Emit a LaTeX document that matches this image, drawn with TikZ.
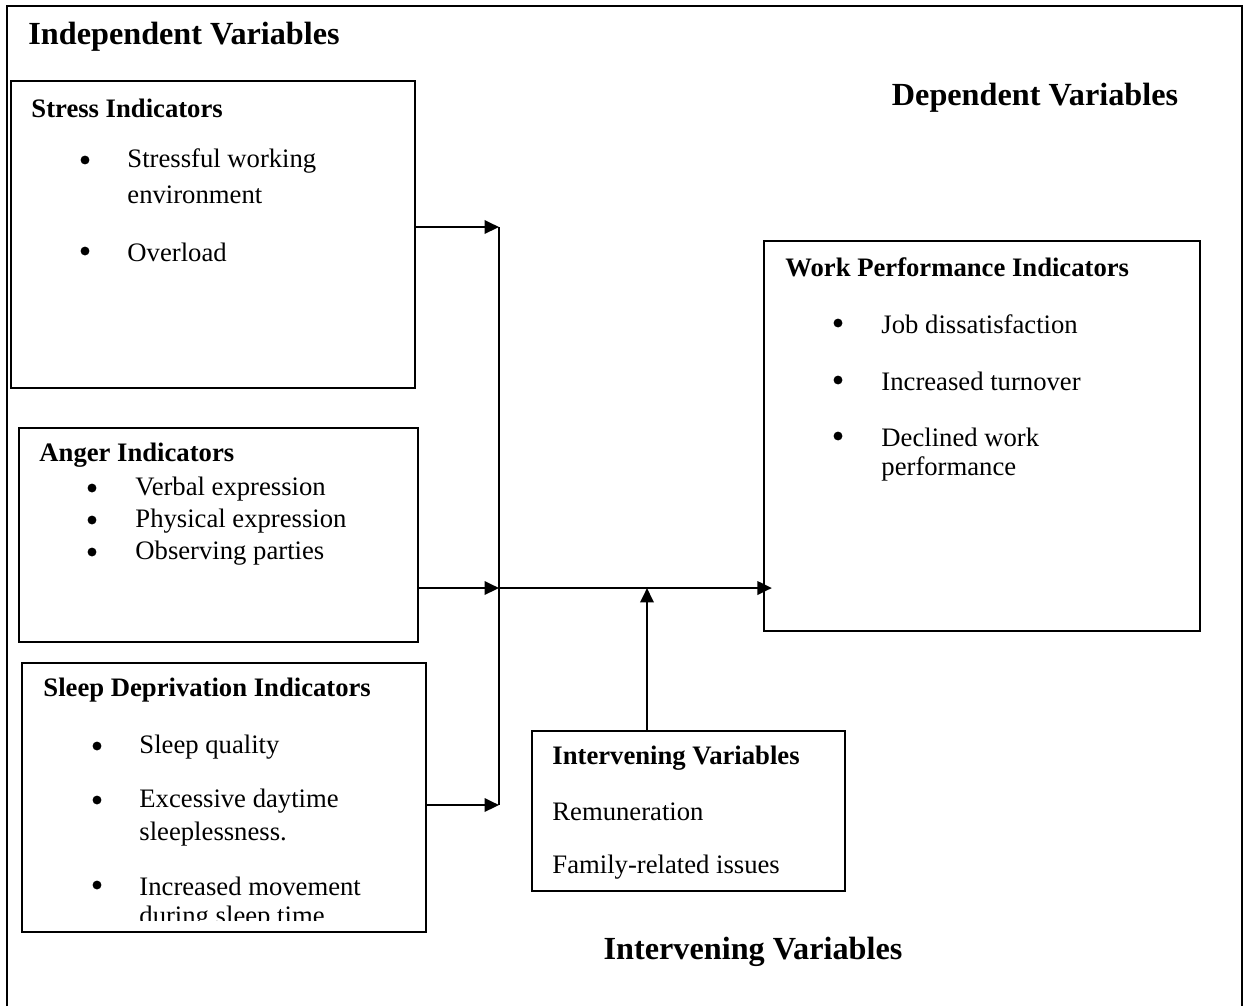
\documentclass[tikz,border=0pt]{standalone}
\usepackage{fontspec}
\setmainfont{Liberation Serif}
\usetikzlibrary{arrows.meta}

\tikzset{
  box/.style={draw, rectangle, line width=0.9pt, inner sep=0pt},
  head/.style={font=\fontsize{14.5}{17}\selectfont\bfseries, inner sep=0pt},
  title/.style={font=\fontsize{12}{14}\selectfont\bfseries, anchor=west, inner sep=0pt},
  txt/.style={font=\fontsize{12}{14}\selectfont, anchor=west, inner sep=0pt},
  dot/.style={circle, fill, inner sep=0pt, minimum size=4pt},
  link/.style={line width=1.1pt, -{Triangle[length=6.5pt,width=6pt]}}
}

\begin{document}
\begin{tikzpicture}[x=0.45pt,y=-0.45pt]
        \useasboundingbox (0,0) rectangle (1245,1006);
        % outer frame, open at the bottom
        \draw[line width=0.9pt] (7,1006) -- (7,6) -- (1242,6) -- (1242,1006);

        \node[head, anchor=west] (indep) at (28,37) {Independent Variables};
        \node[head] (dep) at (1035,98) {Dependent Variables};
        \node[head] (intv) at (753,952) {Intervening Variables};

        % stress
        \node[box, minimum width=181.8pt, minimum height=138.15pt] (stress) at (213,234.5) {};
        \node[title] (stresst) at (31,108) {Stress Indicators};
        \node[dot] (s1b) at (85,160) {};
        \node[txt] (s1) at (127,161) {Stressful working};
        \node[txt] (s1x) at (127,195) {environment};
        \node[dot] (s2b) at (85,251) {};
        \node[txt] (s2) at (127,252) {Overload};

        % anger
        \node[box, minimum width=179.55pt, minimum height=96.3pt] (anger) at (218.5,535) {};
        \node[title] (angert) at (39,455) {Anger Indicators};
        \node[dot] (a1b) at (92,488) {};
        \node[txt] (a1) at (135,489) {Verbal expression};
        \node[dot] (a2b) at (92,520) {};
        \node[txt] (a2) at (135,521) {Physical expression};
        \node[dot] (a3b) at (92,552) {};
        \node[txt] (a3) at (135,553) {Observing parties};

        % sleep
        \node[box, minimum width=181.8pt, minimum height=121.05pt] (sleep) at (224,797.5) {};
        \node[title] (sleept) at (43,690) {Sleep Deprivation Indicators};
        \node[dot] (l1b) at (97,746) {};
        \node[txt] (l1) at (139,747) {Sleep quality};
        \node[dot] (l2b) at (97,800) {};
        \node[txt] (l2) at (139,801) {Excessive daytime};
        \node[txt] (l2x) at (139,834) {sleeplessness.};
        \node[dot] (l3b) at (97,885) {};
        \begin{scope}
          \clip (22,663) rectangle (426,920);
          \node[txt] (l3) at (139,886) {Increased movement};
          \node[txt] (l3x) at (139,918) {during sleep time.};
        \end{scope}

        % work performance
        \node[box, minimum width=196.2pt, minimum height=175.5pt] (wp) at (982,436) {};
        \node[title] (wpt) at (785,267) {Work Performance Indicators};
        \node[dot] (w1b) at (838,323) {};
        \node[txt] (w1) at (881,324) {Job dissatisfaction};
        \node[dot] (w2b) at (838,380) {};
        \node[txt] (w2) at (881,381) {Increased turnover};
        \node[dot] (w3b) at (838,436) {};
        \node[txt] (w3) at (881,437) {Declined work};
        \node[txt] (w3x) at (881,469) {performance};

        % intervening
        \node[box, minimum width=140.85pt, minimum height=72pt] (interv) at (688.5,811) {};
        \node[title] (intervt) at (552,758) {Intervening Variables};
        \node[txt] (i1) at (552,812) {Remuneration};
        \node[txt] (i2) at (552,867) {Family-related issues};

        % connectors
        \coordinate (jtop) at (499,227);
        \coordinate (jmid) at (499,588);
        \coordinate (jbot) at (499,805);
        \coordinate (jup) at (647,588);
        \draw[link] (stress.east |- jtop) -- (jtop);
        \draw[link] (anger.east |- jmid) -- (jmid);
        \draw[link] (sleep.east |- jbot) -- (jbot);
        \draw[line width=1.1pt] (jtop) -- (jbot);
        \draw[link, shorten >=-4pt] (jmid) -- (wp.west |- jmid);
        \draw[link] (interv.north -| jup) -- (jup);
\end{tikzpicture}
\end{document}
